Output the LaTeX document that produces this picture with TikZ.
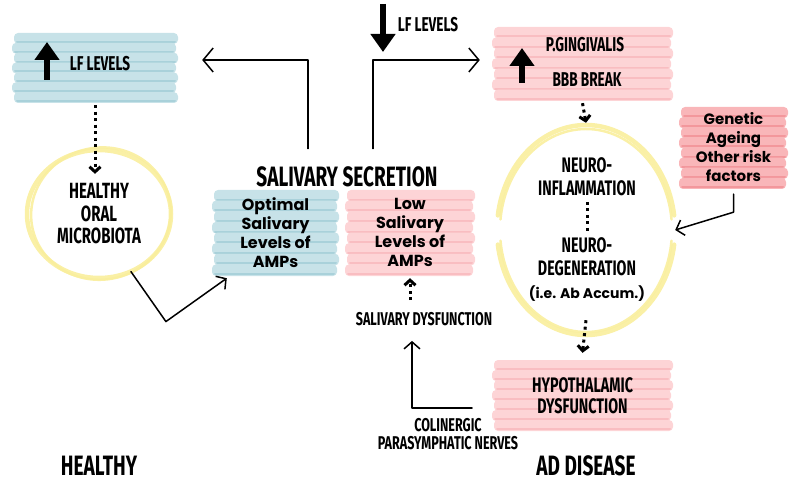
\documentclass[tikz,border=0pt]{standalone}
\usepackage{fontspec}
\setmainfont{Poppins}
\newfontfamily\handfont[FakeStretch=0.68]{Fira Sans}
\usetikzlibrary{arrows.meta,shapes.geometric}

\definecolor{salBlueFill}{HTML}{C7E2E8}
\definecolor{salBlueLine}{HTML}{A9D1DA}
\definecolor{salPinkFill}{HTML}{FDD4D6}
\definecolor{salPinkLine}{HTML}{F9BDC1}
\definecolor{salRiskFill}{HTML}{F9B6B9}
\definecolor{salRiskLine}{HTML}{F3979C}
\definecolor{salHalo}{HTML}{F9EE9C}

\newcommand{\handsz}[2]{\handfont\bfseries\fontsize{#1}{#2}\selectfont}
\newcommand{\boldsz}[2]{\normalfont\bfseries\fontsize{#1}{#2}\selectfont}

% striped box: left x, right x, top y, bottom y, bands, fill, stripe
\newcommand{\stripeBox}[7]{%
  \pgfmathsetmacro{\bandH}{(#4-#3)/#5}
  \foreach \k in {1,...,#5}{
    \pgfmathsetmacro{\yA}{#3+(\k-1)*\bandH}
    \pgfmathsetmacro{\yB}{\yA+\bandH+1}
    \pgfmathsetmacro{\dx}{mod(\k,2)*2}
    \fill[#6, rounded corners=4pt] (#1+\dx,\yA) rectangle (#2-2+\dx,\yB);
    \draw[#7, line width=2pt] (#1+\dx+3,\yB-2) -- (#2+\dx-5,\yB-2);
  }}

\begin{document}
\begin{tikzpicture}[x=1pt, y=-1pt, line cap=round, line join=round,
  txt/.style={align=center, inner sep=0pt, text=black},
  boxnode/.style={txt, minimum width=#1},
  halo/.style={draw=salHalo, line width=4.5pt, opacity=0.9},
  pen/.style={draw=black, line width=1.5pt},
  openarr/.style={pen, -{Straight Barb[length=7pt, width=16pt]}},
  openbig/.style={pen, -{Straight Barb[length=10pt, width=24pt]}},
  dotline/.style={line width=3pt, line cap=butt, dash pattern=on 3pt off 3.5pt},
  dotarr/.style={dotline, -{Straight Barb[length=5pt, width=11pt]}},
  bigarr/.style={line width=6pt, line cap=butt, -{Triangle[length=18pt, width=24pt]}}]
\useasboundingbox (0,0) rectangle (793,484);

% Striped boxes
\stripeBox{12}{178}{33}{102}{7}{salBlueFill}{salBlueLine}
\stripeBox{492}{673}{27}{100}{7}{salPinkFill}{salPinkLine}
\stripeBox{212}{339}{190}{275}{8}{salBlueFill}{salBlueLine}
\stripeBox{345}{475}{190}{275}{8}{salPinkFill}{salPinkLine}
\stripeBox{679}{788}{107}{188}{8}{salRiskFill}{salRiskLine}
\stripeBox{492}{673}{360}{430}{7}{salPinkFill}{salPinkLine}

% Box nodes
\node[boxnode=166pt, minimum height=69pt] (lfbox) at (95,67.5) {};
\node[boxnode=181pt, minimum height=73pt] (pgbox) at (582.5,63.5) {};
\node[boxnode=127pt, minimum height=85pt, font=\boldsz{16}{19}] (optbox) at (275.5,232.5) {Optimal\\Salivary\\Levels of\\AMPs};
\node[boxnode=130pt, minimum height=85pt, font=\boldsz{16}{19}] (lowbox) at (410,232.5) {Low\\Salivary\\Levels of\\AMPs};
\node[boxnode=109pt, minimum height=81pt, font=\boldsz{15}{19}] (genbox) at (733.5,147.5) {Genetic\\Ageing\\Other risk\\factors};
\node[boxnode=181pt, minimum height=70pt, font=\handsz{21}{21}] (hypobox) at (582.5,396) {HYPOTHALAMIC\\DYSFUNCTION};

% Labels
\node[txt, font=\handsz{20}{21}] (lftxt) at (100,64) {LF LEVELS};
\node[txt, font=\handsz{20}{21}] (lfdown) at (428,25) {LF LEVELS};
\node[txt, font=\handsz{20}{21}] (pgtxt) at (585,45) {P.GINGIVALIS};
\node[txt, font=\handsz{20}{21}] (bbbtxt) at (587,80) {BBB BREAK};
\node[txt, font=\handsz{28}{28}] (sec) at (347,177) {SALIVARY SECRETION};
\node[txt, font=\handsz{18.5}{19}] (saldys) at (424,319) {SALIVARY DYSFUNCTION};
\node[txt, font=\handsz{18.5}{18}] (colin) at (448,434) {COLINERGIC\\PARASYMPHATIC NERVES};
\node[txt, font=\handsz{28}{28}] (healthy) at (99,466) {HEALTHY};
\node[txt, font=\handsz{28}{28}] (ad) at (586,466) {AD DISEASE};

% Circles
\node[txt, ellipse, minimum width=144pt, minimum height=128pt, font=\handsz{22}{22.5}] (oral) at (99,214) {HEALTHY\\ORAL\\MICROBIOTA};
\node[txt, ellipse, minimum width=178pt, minimum height=210pt] (neuro) at (586,230) {};
\node[txt, font=\handsz{21}{23}] (inflam) at (587,176.5) {NEURO-\\INFLAMMATION};
\node[txt, font=\handsz{21}{23}] (degen) at (587,270) {NEURO-\\DEGENERATION\\{\boldsz{14}{15}(i.e. Ab Accum.)}};

\draw[halo] (oral.center) ellipse [x radius=72, y radius=64];
\draw[halo, line width=2.5pt, rotate around={12:(oral.center)}] ([xshift=2pt]oral.center) ellipse [x radius=70, y radius=66];
\draw[halo] ([shift={(352:89 and 105)}]neuro.center) arc[start angle=352, end angle=188, x radius=89, y radius=105];
\draw[halo, line width=2.5pt] ([shift={(354:86 and 101)}]neuro.center) arc[start angle=354, end angle=186, x radius=86, y radius=101];
\draw[halo] ([shift={(8:89 and 105)}]neuro.center) arc[start angle=8, end angle=172, x radius=89, y radius=105];
\draw[halo, line width=2.5pt] ([shift={(6:86 and 102)}]neuro.center) arc[start angle=6, end angle=174, x radius=86, y radius=102];

% Up and down markers
\draw[bigarr] (47,80) -- (47,42);
\draw[bigarr] (522,83) -- (522,48);
\draw[bigarr] (383,4) -- (383,52);

% Connectors
\draw[openbig, shorten <=18pt, shorten >=24pt] ([xshift=-39pt]sec.north) |- ([yshift=7.5pt]lfbox.east);
\draw[openbig, shorten <=18pt, shorten >=12pt] ([xshift=26pt]sec.north) |- ([yshift=3.5pt]pgbox.west);
\draw[openarr] (oral.-61) -- ++(35,50) -- ([xshift=15pt,yshift=-3pt]optbox.south west);
\draw[openarr, shorten <=6pt] (genbox.south) -- ++(0,24) -- (neuro.east);
\draw[openarr, shorten >=15pt] ([xshift=24pt,yshift=10pt]colin.north) -| ([xshift=-12pt]saldys.south);

\coordinate (lfdot) at (lfbox.south |- oral.north);
\coordinate (saldot) at (saldys.north -| lowbox.south);
\draw[dotarr] ([yshift=-3pt]lfbox.south) -- ([yshift=-24pt]lfdot);
\draw[dotarr] ([yshift=-3pt]pgbox.south) -- ([yshift=2pt]neuro.north);
\draw[dotarr] ([yshift=15pt]neuro.south) -- ([yshift=8pt]hypobox.north);
\draw[dotarr] ([yshift=12pt]saldot) -- ([yshift=-3pt]lowbox.south);
\draw[dotline, shorten <=6pt, shorten >=6pt] (inflam.south) -- (degen.north);
\end{tikzpicture}
\end{document}
